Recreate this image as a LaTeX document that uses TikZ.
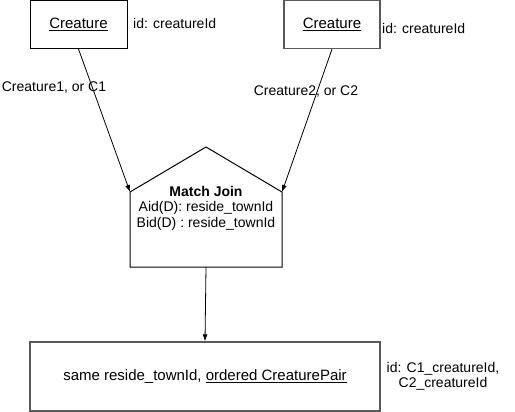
\documentclass[tikz,border=0pt]{standalone}
\usepackage{fontspec}
\setmainfont{Liberation Sans}
\usetikzlibrary{arrows.meta}
\definecolor{boxgray}{HTML}{595959}
\tikzset{
  entity/.style={draw, line width=1pt, minimum height=48pt, inner sep=0pt, font=\fontsize{15}{17}\selectfont},
  idlabel/.style={anchor=west, inner sep=0pt},
  link/.style={line width=0.8pt, -{Latex[length=7pt,width=5pt]}},
}
\begin{document}
\begin{tikzpicture}[x=1pt, y=-1pt, font=\fontsize{14}{15.5}\selectfont]
    \useasboundingbox (0,0) rectangle (515,412);
    % the two creatures
    \node [entity, minimum width=97pt] (cA) at (78.5,24.5) {\underline{Creature}};
    \node [entity, draw=boxgray, line width=1.3pt, minimum width=96pt] (cB) at (332,24.5) {\underline{Creature}};
    \node [idlabel] (idA) at (133,23) {id: creatureId};
    \node [idlabel] (idB) at (382,28) {id: creatureId};
    % match join
    \coordinate (mjL) at (130,192);
    \coordinate (mjT) at (206,147);
    \coordinate (mjR) at (282,192);
    \coordinate (mjB) at (206,267);
    \draw [line width=1pt] (mjL) -- (mjT) -- (mjR) -- (282,267) -- (130,267) -- cycle;
    \node [align=center] (mj) at (206,208) {\textbf{Match Join}\\Aid(D): reside\_townId\\Bid(D) : reside\_townId};
    \draw [link] (cA.south) -- (mjL);
    \draw [link] (cB.south) -- (mjR);
    \node [inner sep=0pt] (lA) at (54,88) {Creature1, or C1};
    \node [inner sep=0pt] (lB) at (306,92) {Creature2, or C2};
    % result
    \node [entity, draw=boxgray, line width=1.3pt, minimum width=350pt, minimum height=69pt] (pair) at (205,376.5)
        {same reside\_townId, \underline{ordered CreaturePair}};
    \draw [link] (mjB) -- (pair.north);
    \node [align=center, inner sep=0pt] (idP) at (443,376.5) {id: C1\_creatureId,\\C2\_creatureId};
\end{tikzpicture}
\end{document}
